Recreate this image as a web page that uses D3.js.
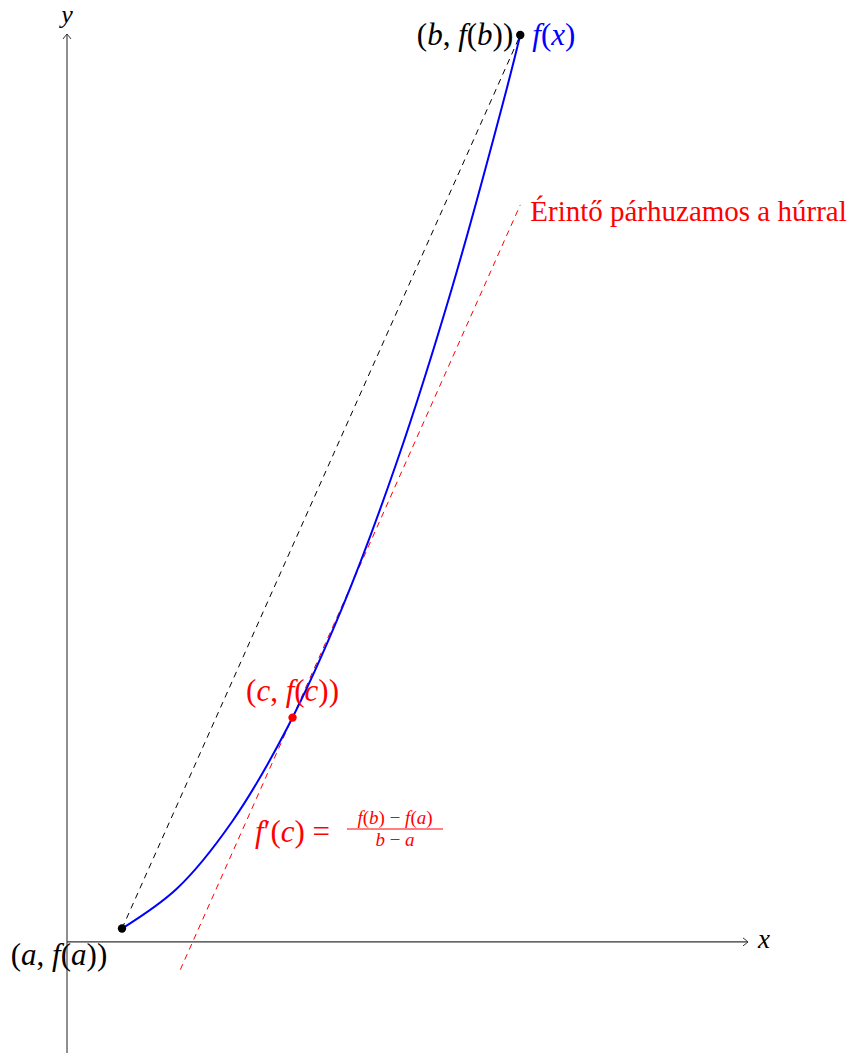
<!DOCTYPE html>
<html>
 <head>
  <style>
  body { margin: 0; background: #fff; }
  svg text { font-family: "Liberation Serif", "DejaVu Serif", serif; }
  </style>
  <script src="https://cdnjs.cloudflare.com/ajax/libs/d3/7.8.3/d3.min.js"></script>
 </head>
 <body>
  <script>
   // curve samples (data units)
   const curveX = [0.5, 1, 1.5, 2, 2.5, 3, 3.5, 4, 4.12];
   const curveY = [0.125, 0.5, 1.125, 2.0, 3.125, 4.5, 6.125, 8.0, 8.49];
   const pointA = [0.5, 0.125];
   const pointB = [4.12, 8.49];
   const pointC = [2.05, 2.1];
   const tangentX = [1.03, 4.12];
   const tangentY = [-0.26, 6.9];
   const xRange = [0, 6.19];
   const yRange = [-1.04, 8.5];

   const w = 852, h = 1053;
   const xScale = d3.scaleLinear().domain(xRange).range([67, 748]);
   const yScale = d3.scaleLinear().domain(yRange).range([1053, 34]);

   const svg = d3.select("body").append("svg")
                 .attr("width", w).attr("height", h);

   const defs = svg.append("defs");
   defs.append("marker")
       .attr("id", "arr")
       .attr("viewBox", "-6 -5 8 10")
       .attr("markerWidth", 8).attr("markerHeight", 10)
       .attr("markerUnits", "userSpaceOnUse")
       .attr("orient", "auto")
       .append("path")
       .attr("d", "M-5,-4 Q-1,-1 0,0 Q-1,1 -5,4")
       .attr("fill", "none").attr("stroke", "#333").attr("stroke-width", 1);

   // axes
   svg.append("line")
      .attr("x1", xScale(0)).attr("y1", yScale(0))
      .attr("x2", xScale(xRange[1])).attr("y2", yScale(0))
      .attr("stroke", "#333").attr("stroke-width", 1.1)
      .attr("marker-end", "url(#arr)");
   svg.append("line")
      .attr("x1", xScale(0)).attr("y1", yScale(yRange[0]))
      .attr("x2", xScale(0)).attr("y2", yScale(yRange[1]))
      .attr("stroke", "#333").attr("stroke-width", 1.1)
      .attr("marker-end", "url(#arr)");

   // math text helper: segments [text, italic]
   function mathText(g, x, y, parts, opts) {
    const t = g.append("text")
               .attr("x", x).attr("y", y)
               .attr("font-size", opts.size)
               .attr("fill", opts.color)
               .attr("text-anchor", opts.anchor || "start");
    parts.forEach(p => {
     t.append("tspan")
      .attr("font-style", p[1] ? "italic" : "normal")
      .text(p[0]);
    });
    return t;
   }

   const ms = 31;
   mathText(svg, xScale(xRange[1]) + 10, yScale(0) + 6, [["x", 1]], {size: 27, color: "#000"});
   mathText(svg, xScale(0), 23, [["y", 1]], {size: 26, color: "#000", anchor: "middle"});

   // chord
   svg.append("line")
      .attr("x1", xScale(pointA[0])).attr("y1", yScale(pointA[1]))
      .attr("x2", xScale(pointB[0])).attr("y2", yScale(pointB[1]))
      .attr("stroke", "#000").attr("stroke-width", 1)
      .attr("stroke-dasharray", "6 5");

   // tangent
   svg.append("line")
      .attr("x1", xScale(tangentX[0])).attr("y1", yScale(tangentY[0]))
      .attr("x2", xScale(tangentX[1])).attr("y2", yScale(tangentY[1]))
      .attr("stroke", "red").attr("stroke-width", 1)
      .attr("stroke-dasharray", "6 5");

   // function curve
   const line = d3.line()
                  .x(d => xScale(d[0]))
                  .y(d => yScale(d[1]))
                  .curve(d3.curveCatmullRom);
   svg.append("path")
      .attr("d", line(d3.zip(curveX, curveY)))
      .attr("fill", "none").attr("stroke", "blue").attr("stroke-width", 2);

   // points
   [[pointA, "#000"], [pointB, "#000"], [pointC, "red"]].forEach(p => {
    svg.append("circle")
       .attr("cx", xScale(p[0][0])).attr("cy", yScale(p[0][1]))
       .attr("r", 4.2).attr("fill", p[1]);
   });

   // labels
   mathText(svg, xScale(pointB[0]) - 7, yScale(pointB[1]) + 10,
            [["(", 0], ["b", 1], [", ", 0], ["f", 1], ["(", 0], ["b", 1], ["))", 0]],
            {size: ms, color: "#000", anchor: "end"});
   mathText(svg, xScale(pointB[0]) + 12, yScale(pointB[1]) + 10,
            [["f", 1], ["(", 0], ["x", 1], [")", 0]],
            {size: ms, color: "blue"});
   mathText(svg, 59, yScale(pointA[1]) + 36,
            [["(", 0], ["a", 1], [", ", 0], ["f", 1], ["(", 0], ["a", 1], ["))", 0]],
            {size: ms, color: "#000", anchor: "middle"});
   mathText(svg, xScale(pointC[0]), yScale(pointC[1]) - 17,
            [["(", 0], ["c", 1], [", ", 0], ["f", 1], ["(", 0], ["c", 1], ["))", 0]],
            {size: ms, color: "red", anchor: "middle"});

   svg.append("text")
      .attr("x", xScale(tangentX[1]) + 10).attr("y", yScale(tangentY[1]) + 16)
      .attr("font-size", 29).attr("fill", "red")
      .text("Érintő párhuzamos a húrral");

   // derivative equation
   const eq = svg.append("g");
   mathText(eq, 255, 842,
            [["f", 1], ["′", 0], ["(", 0], ["c", 1], [") = ", 0]],
            {size: ms, color: "red"});
   mathText(eq, 395, 824,
            [["f", 1], ["(", 0], ["b", 1], [") − ", 0], ["f", 1], ["(", 0], ["a", 1], [")", 0]],
            {size: 19, color: "red", anchor: "middle"});
   eq.append("line")
     .attr("x1", 347).attr("x2", 443).attr("y1", 829).attr("y2", 829)
     .attr("stroke", "red").attr("stroke-width", 1);
   mathText(eq, 395, 846,
            [["b", 1], [" − ", 0], ["a", 1]],
            {size: 19, color: "red", anchor: "middle"});
  </script>
 </body>
</html>
